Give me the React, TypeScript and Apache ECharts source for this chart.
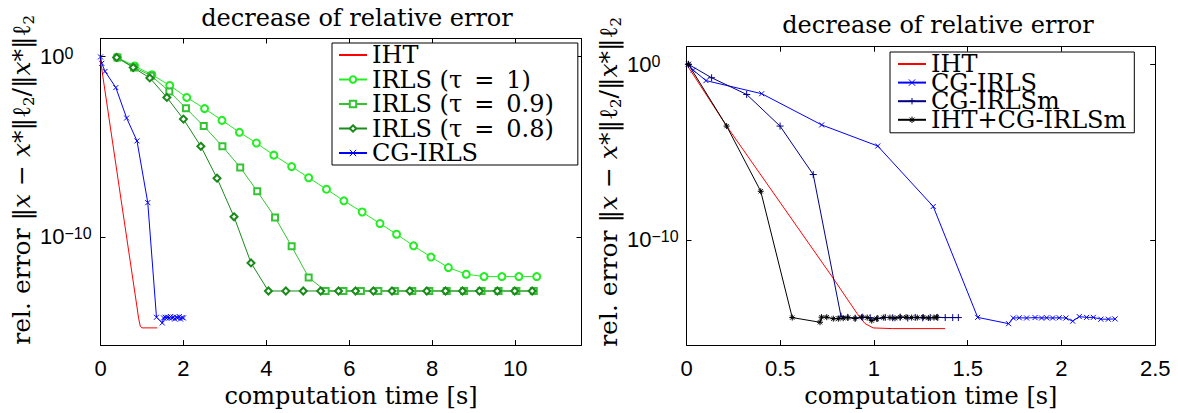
import React, { useEffect, useRef } from 'react';
import * as echarts from 'echarts';

// ---------- data (left panel) ----------
const ihtLX = [0, 0.45, 0.88, 0.92, 0.96, 1.0, 1.37];
const ihtLY = [0.6, 6e-8, 1.3e-14, 3e-15, 1.1e-15, 9e-16, 9e-16];

const cgLX = [0.0, 0.03, 0.11, 0.37, 0.63, 0.88, 1.14, 1.35, 1.49, 1.52, 1.56, 1.59, 1.62, 1.66, 1.69, 1.72, 1.76, 1.79, 1.83, 1.86, 1.9, 1.93, 1.97, 2.0];
const cgLY = [0.95, 0.42, 0.15, 0.019, 3.9e-4, 2.1e-5, 7.9e-9, 3.5e-15, 1.7e-15, 3.2e-15, 3.5e-15, 3.2e-15, 3.5e-15, 3.2e-15, 3.8e-15, 3.2e-15, 3.5e-15, 2.8e-15, 3.5e-15, 3.2e-15, 3.8e-15, 2.8e-15, 3.4e-15, 3.2e-15];

const irls1X = [0.4, 0.82, 1.24, 1.67, 2.08, 2.51, 2.93, 3.35, 3.76, 4.18, 4.61, 5.02, 5.45, 5.87, 6.31, 6.74, 7.14, 7.55, 7.97, 8.39, 8.82, 9.25, 9.68, 10.09, 10.52];
const irls1Y = [0.89, 0.3, 0.098, 0.025, 5.4e-3, 1.3e-3, 2.9e-4, 6.3e-5, 1.6e-5, 3.4e-6, 7.9e-7, 1.9e-7, 4.4e-8, 1e-8, 2.4e-9, 5.5e-10, 1.4e-10, 3.2e-11, 7.6e-12, 2e-12, 8.5e-13, 6.3e-13, 6.3e-13, 6.3e-13, 6.3e-13];

const irls09X = [0.41, 0.81, 1.22, 1.66, 2.06, 2.49, 2.94, 3.37, 3.78, 4.21, 4.61, 5.02, 5.43, 5.86, 6.28, 6.7, 7.1, 7.52, 7.93, 8.35, 8.77, 9.19, 9.6, 10.03, 10.45];
const irls09Y = [0.89, 0.25, 0.087, 0.0117, 1.35e-3, 1.4e-4, 1.05e-5, 7.1e-7, 3.4e-8, 1.2e-9, 3e-11, 5.6e-13, 1e-13, 1e-13, 1e-13, 1e-13, 1e-13, 1e-13, 1e-13, 1e-13, 1e-13, 1e-13, 1e-13, 1e-13, 1e-13];

const irls08X = [0.39, 0.79, 1.19, 1.6, 2.0, 2.42, 2.81, 3.22, 3.63, 4.05, 4.47, 4.89, 5.31, 5.74, 6.15, 6.58, 7.03, 7.46, 7.87, 8.32, 8.73, 9.14, 9.57, 9.99, 10.41];
const irls08Y = [0.89, 0.245, 0.065, 5.4e-3, 3.4e-4, 1.05e-5, 1.8e-7, 1.3e-9, 3.6e-12, 1e-13, 1e-13, 1e-13, 1e-13, 1e-13, 1e-13, 1e-13, 1e-13, 1e-13, 1e-13, 1e-13, 1e-13, 1e-13, 1e-13, 1e-13, 1e-13];

// ---------- data (right panel) ----------
const ihtRX = [0, 0.214, 0.783, 0.91, 0.952, 0.996, 1.1, 1.379];
const ihtRY = [1.0, 3e-4, 6.3e-13, 6.3e-15, 1.7e-15, 9.5e-16, 8.7e-16, 8.7e-16];

const cgRX = [0.01, 0.036, 0.104, 0.401, 0.721, 1.02, 1.316, 1.553, 1.718, 1.743, 1.775, 1.814, 1.859, 1.894, 1.921, 1.953, 1.988, 2.024, 2.06, 2.095, 2.134, 2.17, 2.21, 2.25, 2.286];
const cgRY = [1.0, 0.46, 0.117, 0.021, 3.5e-4, 2.2e-5, 7.9e-9, 3.8e-15, 1.66e-15, 3.5e-15, 3.6e-15, 3.5e-15, 3.7e-15, 3.5e-15, 3.6e-15, 3.5e-15, 3.6e-15, 3.5e-15, 2.3e-15, 4.2e-15, 3.8e-15, 3.8e-15, 3e-15, 3e-15, 3.1e-15];

const cgmRX = [0.01, 0.134, 0.321, 0.499, 0.676, 0.824, 0.86, 0.9, 0.94, 0.98, 1.02, 1.06, 1.1, 1.14, 1.18, 1.22, 1.26, 1.3, 1.34, 1.38, 1.42, 1.45];
const cgmRY = [1.0, 0.17, 0.019, 3e-4, 5.2e-7, 4.4e-15, 3.8e-15, 3.4e-15, 3.9e-15, 3.6e-15, 3.3e-15, 3.8e-15, 3.6e-15, 3.9e-15, 3.5e-15, 3.8e-15, 3.6e-15, 3.7e-15, 3.8e-15, 3.7e-15, 3.7e-15, 3.7e-15];

const hybRX = [0.01, 0.214, 0.396, 0.564, 0.712, 0.72, 0.748, 0.783, 0.81, 0.836, 0.862, 0.899, 0.934, 0.964, 0.988, 1.014, 1.05, 1.085, 1.112, 1.139, 1.171, 1.201, 1.231, 1.263, 1.29, 1.32, 1.334];
const hybRY = [1.0, 3e-4, 5.8e-8, 3.7e-15, 2e-15, 3.9e-15, 3.9e-15, 3.2e-15, 3.2e-15, 3.4e-15, 3.7e-15, 3.3e-15, 3.9e-15, 3.7e-15, 2.5e-15, 3.2e-15, 3.7e-15, 3.7e-15, 3.4e-15, 3.9e-15, 3.9e-15, 3.7e-15, 3.7e-15, 3.9e-15, 3.5e-15, 3.7e-15, 3.9e-15];

// ---------- axes / labels ----------
const leftXTicks = [0, 2, 4, 6, 8, 10];
const rightXTicks = [0, 0.5, 1, 1.5, 2, 2.5];
const yTicks = [1e-10, 1];
const leftXMax = 11.6;
const rightXMax = 2.5;
const yMin = 1e-16;
const yMax = 10;

const titleText = 'decrease of relative error';
const xName = 'computation time [s]';
const leftLegend = ['IHT', 'IRLS (τ = 1)', 'IRLS (τ = 0.9)', 'IRLS (τ = 0.8)', 'CG-IRLS'];
const rightLegend = ['IHT', 'CG-IRLS', 'CG-IRLSm', 'IHT+CG-IRLSm'];

const SERIF = '"DejaVu Serif", serif';
const SANS = '"Liberation Sans", Arial, sans-serif';

const X_SYM = 'path://M0,0L10,10M10,0L0,10';
const PLUS_SYM = 'path://M5,0L5,10M0,5L10,5';
const STAR_SYM = 'path://M5,0L5,10M0,5L10,5M1.5,1.5L8.5,8.5M8.5,1.5L1.5,8.5';
// horizontal dash with a square bounding box (tiny invisible end points)
const DASH_SYM = 'path://M0,5L10,5M5,0L5,0.001M5,9.999L5,10';

const zip = (xs: number[], ys: number[]) => xs.map((x, i) => [x, ys[i]]);

function lineSeries(name: string, xs: number[], ys: number[], color: string, symbol: string | null, size: number, gi: number) {
  return {
    type: 'line',
    name,
    xAxisIndex: gi * 2,
    yAxisIndex: gi * 2,
    data: zip(xs, ys),
    symbol: symbol || DASH_SYM,
    symbolSize: size,
    showSymbol: !!symbol,
    lineStyle: { color, width: 1 },
    itemStyle: { color, borderColor: color, borderWidth: 1 },
    emphasis: { disabled: true },
    clip: true,
  };
}

const axisLineStyle = { show: true, onZero: false, lineStyle: { color: '#000', width: 1 } };

function xAxes(gi: number, max: number, ticks: number[]) {
  return [
    {
      type: 'value', gridIndex: gi, position: 'bottom', min: 0, max,
      axisLine: axisLineStyle,
      axisTick: { inside: true, length: 5, customValues: ticks, lineStyle: { color: '#000' } },
      axisLabel: { customValues: ticks, margin: 12, fontFamily: SANS, fontSize: 22, color: '#000' },
      splitLine: { show: false },
      name: xName, nameLocation: 'middle', nameGap: 38,
      nameTextStyle: { fontFamily: SERIF, fontSize: 24, color: '#000', padding: [0, 0, 0, 20] },
    },
    {
      type: 'value', gridIndex: gi, position: 'top', min: 0, max,
      axisLine: axisLineStyle,
      axisTick: { inside: true, length: 5, customValues: ticks, lineStyle: { color: '#000' } },
      axisLabel: { show: false },
      splitLine: { show: false },
    },
  ];
}

const yName = '{t|rel. error }{t|‖}{i|x}{t| − }{i|x}{t|*‖}{t|ℓ}{s|2}{t|/‖}{i|x}{t|*‖}{t|ℓ}{s|2}';

function yAxes(gi: number, margin: number, shift: number, gap: number) {
  return [
    {
      type: 'log', logBase: 10, gridIndex: gi, position: 'left', min: yMin, max: yMax,
      axisLine: axisLineStyle,
      axisTick: { inside: true, length: 5, customValues: yTicks, lineStyle: { color: '#000' } },
      axisLabel: {
        customValues: yTicks, align: 'left', margin,
        formatter: (v: number) => {
          const e = Math.round(Math.log10(v));
          return '{b|10}{s|' + (e < 0 ? '−' + Math.abs(e) : String(e)) + '}';
        },
        rich: {
          b: { fontFamily: SANS, fontSize: 22, lineHeight: 22, color: '#000', padding: [6, 0, 6, 0] },
          s: { fontFamily: SANS, fontSize: 16, lineHeight: 16, color: '#000', verticalAlign: 'top' },
        },
      },
      splitLine: { show: false },
      minorTick: { show: false },
      name: yName, nameLocation: 'middle', nameGap: gap,
      nameTextStyle: {
        padding: [0, 0, 0, shift],
        rich: {
          t: { fontFamily: SERIF, fontSize: 25, lineHeight: 30, color: '#000' },
          i: { fontFamily: SERIF, fontSize: 25, lineHeight: 30, fontStyle: 'italic', color: '#000' },
          s: { fontFamily: SERIF, fontSize: 15, lineHeight: 20, color: '#000', verticalAlign: 'bottom' },
        },
      },
    },
    {
      type: 'log', logBase: 10, gridIndex: gi, position: 'right', min: yMin, max: yMax,
      axisLine: axisLineStyle,
      axisTick: { inside: true, length: 5, customValues: yTicks, lineStyle: { color: '#000' } },
      axisLabel: { show: false },
      splitLine: { show: false },
      minorTick: { show: false },
    },
  ];
}

function legend(data: string[], left: number, top: number, gap: number, padding: number[]) {
  return {
    data,
    orient: 'vertical',
    left, top,
    backgroundColor: '#fff',
    borderColor: '#000',
    borderWidth: 1,
    borderRadius: 0,
    padding,
    itemGap: gap,
    itemWidth: 28,
    itemHeight: 8,
    selectedMode: false,
    formatter: (n: string) => n.replace(' = ', '\u2002=\u2002'),
    textStyle: { fontFamily: SERIF, fontSize: 24, color: '#000', lineHeight: 24 },
    itemStyle: { borderWidth: 1 },
  };
}

export default function App() {
  const ref = useRef<HTMLDivElement>(null);
  useEffect(() => {
    if (!ref.current) return;
    const chart = echarts.init(ref.current, null, { renderer: 'svg' });
    chart.setOption({
      animation: false,
      backgroundColor: '#fff',
      grid: [
        { left: 100.5, top: 38.5, width: 481, height: 315.2 },
        { left: 686.5, top: 46.7, width: 468.7, height: 307.6 },
      ],
      xAxis: [...xAxes(0, leftXMax, leftXTicks), ...xAxes(1, rightXMax, rightXTicks)],
      yAxis: [...yAxes(0, 60.5, 24, 62), ...yAxes(1, 59.5, 28, 60)],
      legend: [
        legend(leftLegend, 332, 43, 0.5, [0, 24, 0, 6]),
        legend(rightLegend, 890, 52, -5.4, [0, 8, 1, 7]),
      ],
      graphic: [
        { type: 'text', x: 357, y: 6, style: { text: titleText, fontFamily: SERIF, fontSize: 24, fill: '#000', align: 'center', verticalAlign: 'top' } },
        { type: 'text', x: 938, y: 13, style: { text: titleText, fontFamily: SERIF, fontSize: 24, fill: '#000', align: 'center', verticalAlign: 'top' } },
      ],
      series: [
        lineSeries('IHT', ihtLX, ihtLY, '#ff0000', null, 8, 0),
        lineSeries('IRLS (τ = 1)', irls1X, irls1Y, '#22ee22', 'emptyCircle', 7, 0),
        lineSeries('IRLS (τ = 0.9)', irls09X, irls09Y, '#33c433', 'emptyRect', 6, 0),
        lineSeries('IRLS (τ = 0.8)', irls08X, irls08Y, '#1a8a1a', 'emptyDiamond', 7, 0),
        lineSeries('CG-IRLS', cgLX, cgLY, '#0000ff', X_SYM, 5, 0),
        lineSeries('IHT', ihtRX, ihtRY, '#ff0000', null, 8, 1),
        lineSeries('CG-IRLS', cgRX, cgRY, '#0000ff', X_SYM, 5, 1),
        lineSeries('CG-IRLSm', cgmRX, cgmRY, '#000080', PLUS_SYM, 7, 1),
        lineSeries('IHT+CG-IRLSm', hybRX, hybRY, '#000000', STAR_SYM, 6, 1),
      ],
    });
    return () => chart.dispose();
  }, []);
  return <div ref={ref} style={{ position: 'absolute', left: 0, top: 0, width: 1178, height: 413 }} />;
}
